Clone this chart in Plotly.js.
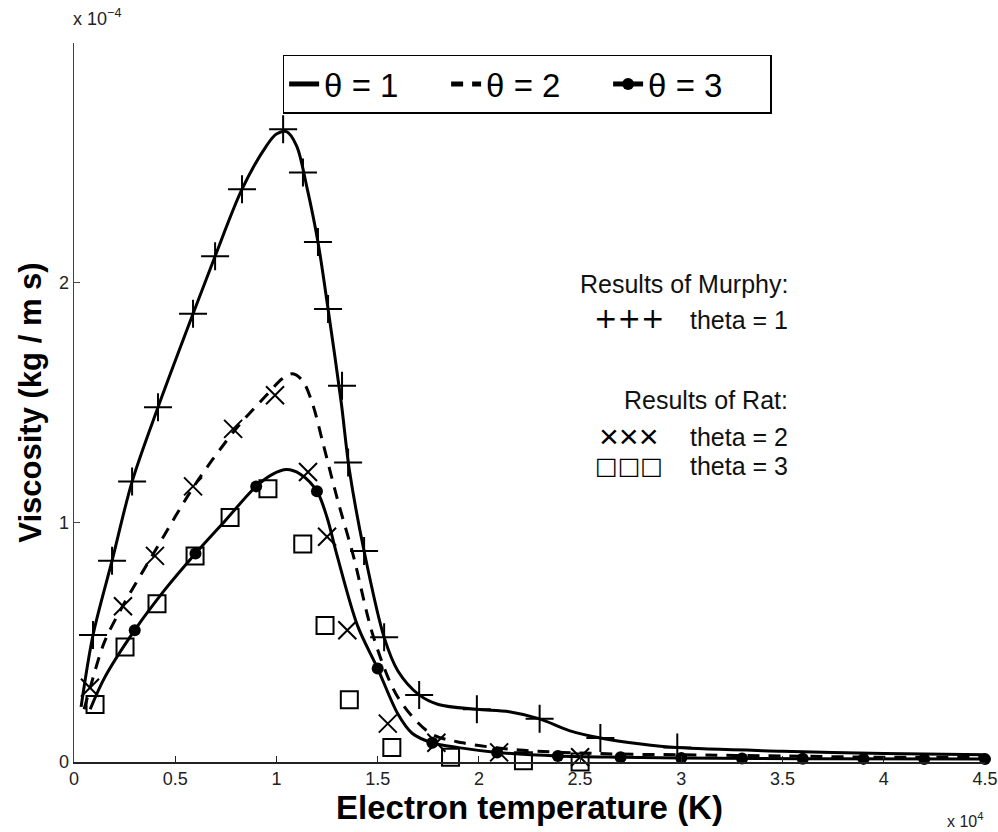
<!DOCTYPE html>
<html>
<head>
<meta charset="utf-8">
<script src="https://cdn.plot.ly/plotly-3.0.1.min.js"></script>
<style>html,body{margin:0;padding:0;background:#fff;}#chart{width:998px;height:832px;}</style>
</head>
<body>
<div id="chart"></div>
<script>
// Units: x in 10^4 K, y in 10^-4 kg/(m s)
// theta = 1 model curve
const curve1X = [0.035,0.094,0.188,0.287,0.415,0.588,0.697,0.83,0.95,1.0,1.05,1.1,1.15,1.205,1.255,1.32,1.36,1.433,1.532,1.6,1.705,1.8,1.99,2.15,2.30,2.45,2.60,2.8,2.98,3.5,4.0,4.5];
const curve1Y = [0.23,0.53,0.84,1.17,1.48,1.87,2.11,2.39,2.57,2.62,2.63,2.57,2.40,2.17,1.89,1.50,1.22,0.88,0.52,0.38,0.28,0.24,0.22,0.21,0.18,0.13,0.10,0.075,0.06,0.045,0.035,0.03];
// theta = 2 model curve (dashed)
const curve2X = [0.05,0.08,0.15,0.24,0.4,0.6,0.8,0.95,1.03,1.08,1.13,1.18,1.23,1.3,1.38,1.48,1.6,1.76,1.92,2.2,2.6,3.0,3.5,4.0,4.5];
const curve2Y = [0.22,0.31,0.50,0.65,0.88,1.16,1.39,1.53,1.60,1.62,1.59,1.49,1.33,1.10,0.86,0.52,0.27,0.12,0.08,0.05,0.035,0.03,0.025,0.02,0.02];
// theta = 3 model curve
const curve3X = [0.08,0.15,0.3,0.45,0.6,0.75,0.9,0.98,1.05,1.12,1.2,1.25,1.3,1.4,1.5,1.6,1.67,1.77,1.9,2.09,2.39,2.7,3.0,3.6,4.5];
const curve3Y = [0.22,0.35,0.55,0.72,0.87,1.01,1.15,1.20,1.22,1.20,1.13,1.02,0.86,0.57,0.39,0.20,0.12,0.08,0.06,0.04,0.025,0.02,0.017,0.014,0.012];
// theta = 3 curve markers
const dot3X = [0.3,0.6,0.9,1.2,1.5,1.77,2.09,2.39,2.7,3.0,3.3,3.6,3.9,4.2,4.5];
const dot3Y = [0.55,0.87,1.15,1.13,0.39,0.08,0.04,0.025,0.02,0.017,0.015,0.014,0.013,0.012,0.012];
// Results of Murphy (theta = 1)
const murphyX = [0.094,0.188,0.287,0.415,0.588,0.697,0.830,1.033,1.131,1.205,1.255,1.324,1.354,1.433,1.532,1.705,1.99,2.30,2.60,2.98];
const murphyY = [0.53,0.84,1.17,1.48,1.87,2.11,2.39,2.64,2.46,2.17,1.89,1.57,1.25,0.88,0.52,0.28,0.22,0.18,0.10,0.06];
// Results of Rat (theta = 2)
const rat2X = [0.079,0.242,0.40,0.588,0.786,0.993,1.156,1.25,1.35,1.55,1.79,2.10,2.50];
const rat2Y = [0.31,0.65,0.86,1.15,1.39,1.53,1.21,0.94,0.55,0.16,0.08,0.04,0.02];
// Results of Rat (theta = 3)
const rat3X = [0.104,0.252,0.41,0.598,0.771,0.958,1.13,1.24,1.36,1.57,1.86,2.22,2.50];
const rat3Y = [0.24,0.48,0.66,0.86,1.02,1.14,0.91,0.57,0.26,0.06,0.02,0.005,0.0];

const xTicks = [0,0.5,1,1.5,2,2.5,3,3.5,4,4.5];
const xTickText = ['0','0.5','1','1.5','2','2.5','3','3.5','4','4.5'];
const yTicks = [0,1,2];
const yTickText = ['0','1','2'];

const FONT = 'Liberation Sans, Arial, sans-serif';

const traces = [
  {x: curve1X, y: curve1Y, mode: 'lines', name: 'θ = 1',
   line: {color: '#000', width: 3, shape: 'spline', smoothing: 0.9}},
  {x: curve2X, y: curve2Y, mode: 'lines', name: 'θ = 2',
   line: {color: '#000', width: 3, dash: '12px,9px', shape: 'spline', smoothing: 0.9}},
  {x: curve3X, y: curve3Y, mode: 'lines', name: 'θ = 3', showlegend: false,
   line: {color: '#000', width: 3, shape: 'spline', smoothing: 0.9}},
  {x: dot3X, y: dot3Y, mode: 'markers', showlegend: false, cliponaxis: false,
   marker: {symbol: 'circle', size: 12, color: '#000'}},
  {x: [null], y: [null], mode: 'lines+markers', name: 'θ = 3',
   line: {color: '#000', width: 3}, marker: {symbol: 'circle', size: 12, color: '#000'}},
  {x: murphyX, y: murphyY, mode: 'markers', showlegend: false, cliponaxis: false,
   marker: {symbol: 'cross-thin-open', size: 20, color: '#000', line: {color: '#000', width: 2}}},
  {x: rat2X, y: rat2Y, mode: 'markers', showlegend: false, cliponaxis: false,
   marker: {symbol: 'x-thin-open', size: 18, color: '#000', line: {color: '#000', width: 2}}},
  {x: rat3X, y: rat3Y, mode: 'markers', showlegend: false, cliponaxis: false,
   marker: {symbol: 'square-open', size: 17, color: '#000', line: {color: '#000', width: 2}}}
];

const annFont = {family: FONT, size: 25, color: '#111'};
const layout = {
  width: 998, height: 832,
  margin: {l: 74, r: 13, t: 43, b: 70},
  paper_bgcolor: '#fff', plot_bgcolor: '#fff',
  showlegend: true,
  legend: {
    orientation: 'h', x: 0.229, y: 0.984, xanchor: 'left', yanchor: 'top',
    bordercolor: '#000', borderwidth: 1.5, bgcolor: '#fff',
    font: {family: FONT, size: 33, color: '#000'},
    entrywidth: 117, entrywidthmode: 'pixels', itemsizing: 'constant', tracegroupgap: 0
  },
  xaxis: {
    range: [0, 4.5], tickvals: xTicks, ticktext: xTickText,
    showline: true, linecolor: '#222', linewidth: 1.5, mirror: false,
    ticks: 'inside', ticklen: 6, tickcolor: '#222', tickwidth: 1,
    showgrid: false, zeroline: false,
    tickfont: {family: FONT, size: 18, color: '#222'},
    title: {text: '<b>Electron temperature (K)</b>', font: {family: FONT, size: 33, color: '#000'}, standoff: 0}
  },
  yaxis: {
    range: [0, 3], tickvals: yTicks, ticktext: yTickText,
    showline: true, linecolor: '#444', linewidth: 1.5, mirror: false,
    ticks: 'inside', ticklen: 6, tickcolor: '#444', tickwidth: 1,
    showgrid: false, zeroline: false,
    tickfont: {family: FONT, size: 18, color: '#222'},
    title: {text: '<b>Viscosity (kg / m s)</b>', font: {family: FONT, size: 31, color: '#000'}, standoff: 8}
  },
  annotations: [
    {xref: 'paper', yref: 'paper', x: -0.003, y: 1.035, xanchor: 'left', yanchor: 'middle', showarrow: false,
     text: 'x 10<sup>−4</sup>', font: {family: FONT, size: 18, color: '#222'}},
    {xref: 'paper', yref: 'paper', x: 1.0, y: -0.081, xanchor: 'right', yanchor: 'middle', showarrow: false,
     text: 'x 10<sup>4</sup>', font: {family: FONT, size: 16, color: '#222'}},
    {xref: 'paper', yref: 'paper', x: 0.786, y: 0.665, xanchor: 'right', yanchor: 'middle', showarrow: false,
     text: 'Results of Murphy:', font: annFont},
    {xref: 'paper', yref: 'paper', x: 0.786, y: 0.615, xanchor: 'right', yanchor: 'middle', showarrow: false,
     text: 'theta = 1', font: annFont},
    {xref: 'paper', yref: 'paper', x: 0.609, y: 0.617, xanchor: 'center', yanchor: 'middle', showarrow: false,
     text: '+++', font: {family: 'DejaVu Sans', size: 28, color: '#000'}},
    {xref: 'paper', yref: 'paper', x: 0.786, y: 0.504, xanchor: 'right', yanchor: 'middle', showarrow: false,
     text: 'Results of Rat:', font: annFont},
    {xref: 'paper', yref: 'paper', x: 0.786, y: 0.452, xanchor: 'right', yanchor: 'middle', showarrow: false,
     text: 'theta = 2', font: annFont},
    {xref: 'paper', yref: 'paper', x: 0.609, y: 0.454, xanchor: 'center', yanchor: 'middle', showarrow: false,
     text: '×××', font: {family: FONT, size: 34, color: '#000'}},
    {xref: 'paper', yref: 'paper', x: 0.786, y: 0.411, xanchor: 'right', yanchor: 'middle', showarrow: false,
     text: 'theta = 3', font: annFont},
    {xref: 'paper', yref: 'paper', x: 0.609, y: 0.411, xanchor: 'center', yanchor: 'middle', showarrow: false,
     text: '□□□', font: {family: 'DejaVu Sans', size: 24, color: '#000'}}
  ]
};

Plotly.newPlot('chart', traces, layout, {displayModeBar: false, staticPlot: true});
</script>
</body>
</html>
